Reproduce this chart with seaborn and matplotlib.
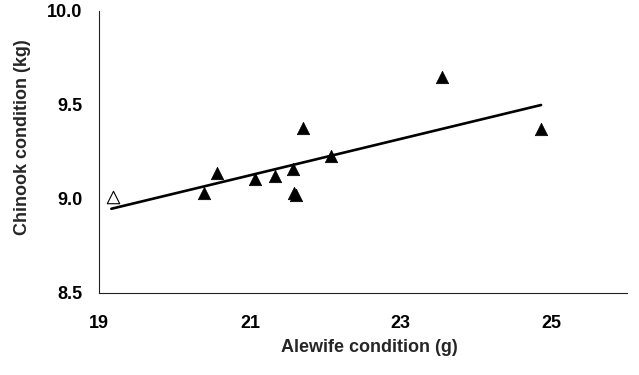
import matplotlib
matplotlib.use("Agg")
import matplotlib.pyplot as plt
import seaborn as sns
import pandas as pd

# Data
alewife_filled = [20.39, 20.56, 21.07, 21.33, 21.57, 21.58, 21.61, 21.70, 22.07, 23.54, 24.86]
chinook_filled = [9.03, 9.136, 9.106, 9.12, 9.16, 9.03, 9.02, 9.38, 9.23, 9.65, 9.37]
alewife_open = [19.18]
chinook_open = [9.012]
line_x = [19.16, 24.86]
line_y = [8.948, 9.50]

x_ticks = [19, 21, 23, 25]
y_ticks = [8.5, 9.0, 9.5, 10.0]
y_tick_labels = ["8.5", "9.0", "9.5", "10.0"]
x_label = "Alewife condition (g)"
y_label = "Chinook condition (kg)"

sns.set_style("white")
plt.rcParams["font.family"] = ["Liberation Sans", "DejaVu Sans"]

fig = plt.figure(figsize=(6.39, 3.75), dpi=100)
ax = fig.add_axes([99.3 / 639, 1 - 293 / 375, (627 - 99.3) / 639, (293 - 11) / 375])

df_f = pd.DataFrame({"x": alewife_filled, "y": chinook_filled})
df_o = pd.DataFrame({"x": alewife_open, "y": chinook_open})
df_l = pd.DataFrame({"x": line_x, "y": line_y})

sns.lineplot(data=df_l, x="x", y="y", ax=ax, color="black", linewidth=1.9, zorder=2)
sns.scatterplot(data=df_f, x="x", y="y", ax=ax, marker="^", s=80, color="black",
                edgecolor="black", linewidth=0.5, zorder=3)
sns.scatterplot(data=df_o, x="x", y="y", ax=ax, marker="^", s=80, color="white",
                edgecolor="black", linewidth=0.8, zorder=3)

ax.set_xlim(19, 26)
ax.set_ylim(8.5, 10.0)
ax.set_xticks(x_ticks)
ax.set_xticklabels([str(t) for t in x_ticks])
ax.set_yticks(y_ticks)
ax.set_yticklabels(y_tick_labels)

for side in ["top", "right"]:
    ax.spines[side].set_visible(False)
for side in ["left", "bottom"]:
    ax.spines[side].set_color("#222222")
    ax.spines[side].set_linewidth(0.8)

ax.tick_params(axis="both", direction="out", length=4, width=0.8, color="#222222",
               labelsize=13, labelcolor="black")
ax.tick_params(axis="x", pad=12)
ax.tick_params(axis="y", pad=8)
for lab in ax.get_xticklabels() + ax.get_yticklabels():
    lab.set_fontweight("bold")

ax.set_xlabel(x_label, fontsize=13, fontweight="bold")
ax.set_ylabel(y_label, fontsize=13, fontweight="bold")
ax.xaxis.label.set_va("center")
ax.yaxis.label.set_va("center")
ax.xaxis.set_label_coords(0.511, -0.195)
ax.yaxis.set_label_coords(-0.1446, 0.553)

fig.savefig("out.png", dpi=100, facecolor="white")
